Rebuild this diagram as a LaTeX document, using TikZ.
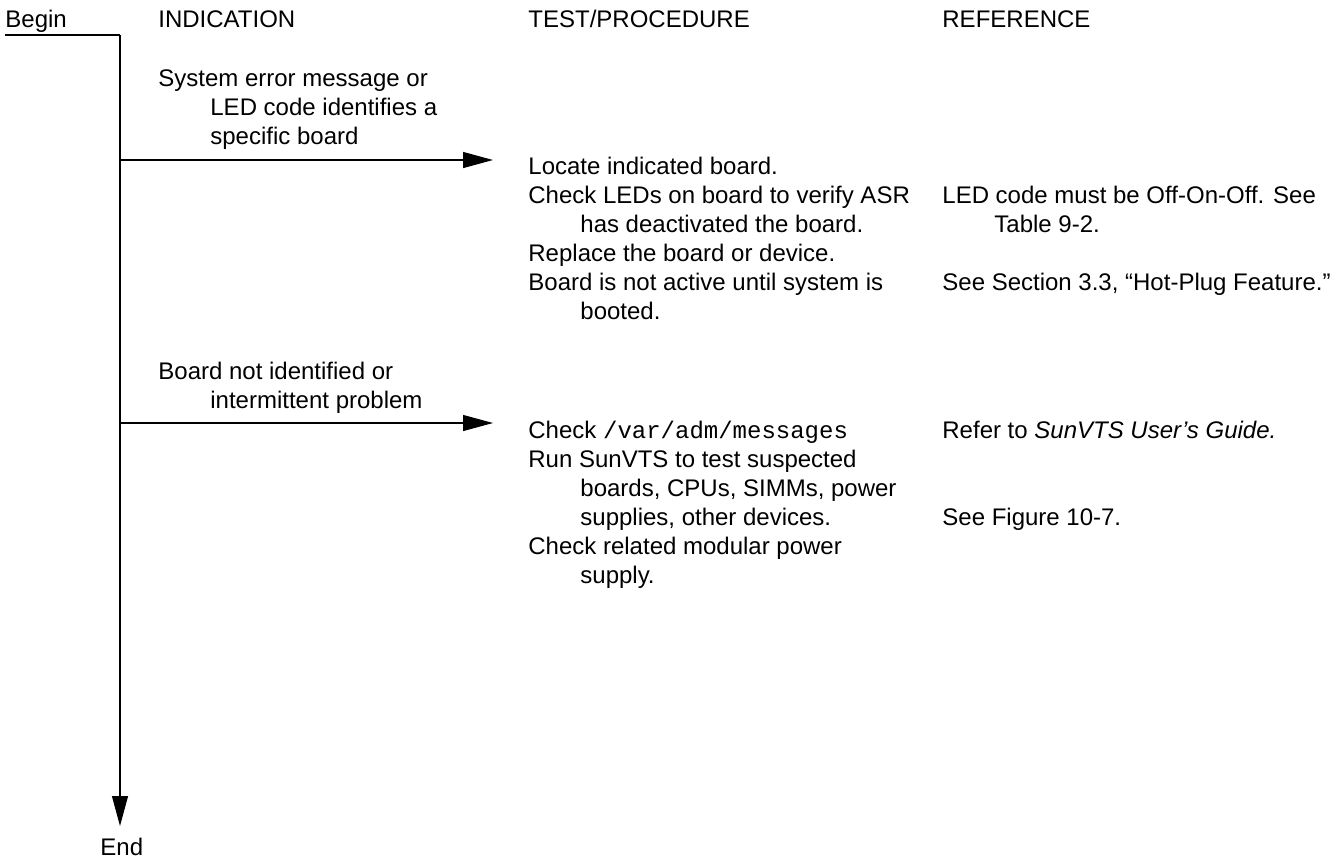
\documentclass[tikz,border=0pt]{standalone}
\usepackage{fontspec}
\setmainfont{Liberation Sans}
\setmonofont{Liberation Mono}
\usetikzlibrary{arrows.meta}
\newcommand{\ind}{\hspace*{26pt}}

\begin{document}
\begin{tikzpicture}[x=0.5pt, y=-0.5pt,
  flow/.style={line width=0.55pt, draw=black},
  flowarrow/.style={flow, -{Triangle[length=15pt, width=8pt]}},
  txt/.style={anchor=base west, align=left, inner sep=0pt,
              font=\fontsize{12}{14.5}\selectfont}]
\useasboundingbox (0,0) rectangle (1343,858);
% column heads
\node[txt] (begin) at (5,27)   {Begin};
\node[txt] (hind)  at (158,27) {INDICATION};
\node[txt] (htest) at (528,27) {TEST/PROCEDURE};
\node[txt] (href)  at (942,27) {REFERENCE};
% main flow line
\coordinate (start) at (5,35);
\coordinate (corner) at (120,35);
\coordinate (stop) at (120,826);
\draw[flow] (start) -- (corner);
\draw[flowarrow] (corner) -- (stop);
\node[txt] (end) at (100,855) {End};
% first branch (multi-line nodes sit on their last line)
\node[txt] (ind1) at (158,144) {System error message or\\ \ind LED code identifies a\\ \ind specific board};
\coordinate (br1) at (120,160);
\coordinate (tip1) at (493,160);
\draw[flowarrow] (br1) -- (tip1);
\node[txt] (test1) at (528,319) {Locate indicated board.\\
  Check LEDs on board to verify ASR\\
  \ind has deactivated the board.\\
  Replace the board or device.\\
  Board is not active until system is\\
  \ind booted.};
\node[txt] (ref1a) at (942,232) {LED code must be Off-On-Off. See\\ \ind Table 9-2.};
\node[txt] (ref1b) at (942,290) {See Section 3.3, “Hot-Plug Feature.”};
% second branch
\node[txt] (ind2) at (158,408) {Board not identified or\\ \ind intermittent problem};
\coordinate (br2) at (120,423);
\coordinate (tip2) at (493,423);
\draw[flowarrow] (br2) -- (tip2);
\node[txt] (test2) at (528,583) {Check \texttt{/var/adm/messages}\\
  Run SunVTS to test suspected\\
  \ind boards, CPUs, SIMMs, power\\
  \ind supplies, other devices.\\
  Check related modular power\\
  \ind supply.};
\node[txt] (ref2a) at (942,438) {Refer to \textit{SunVTS User’s Guide.}};
\node[txt] (ref2b) at (942,525) {See Figure 10-7.};
\end{tikzpicture}
\end{document}
